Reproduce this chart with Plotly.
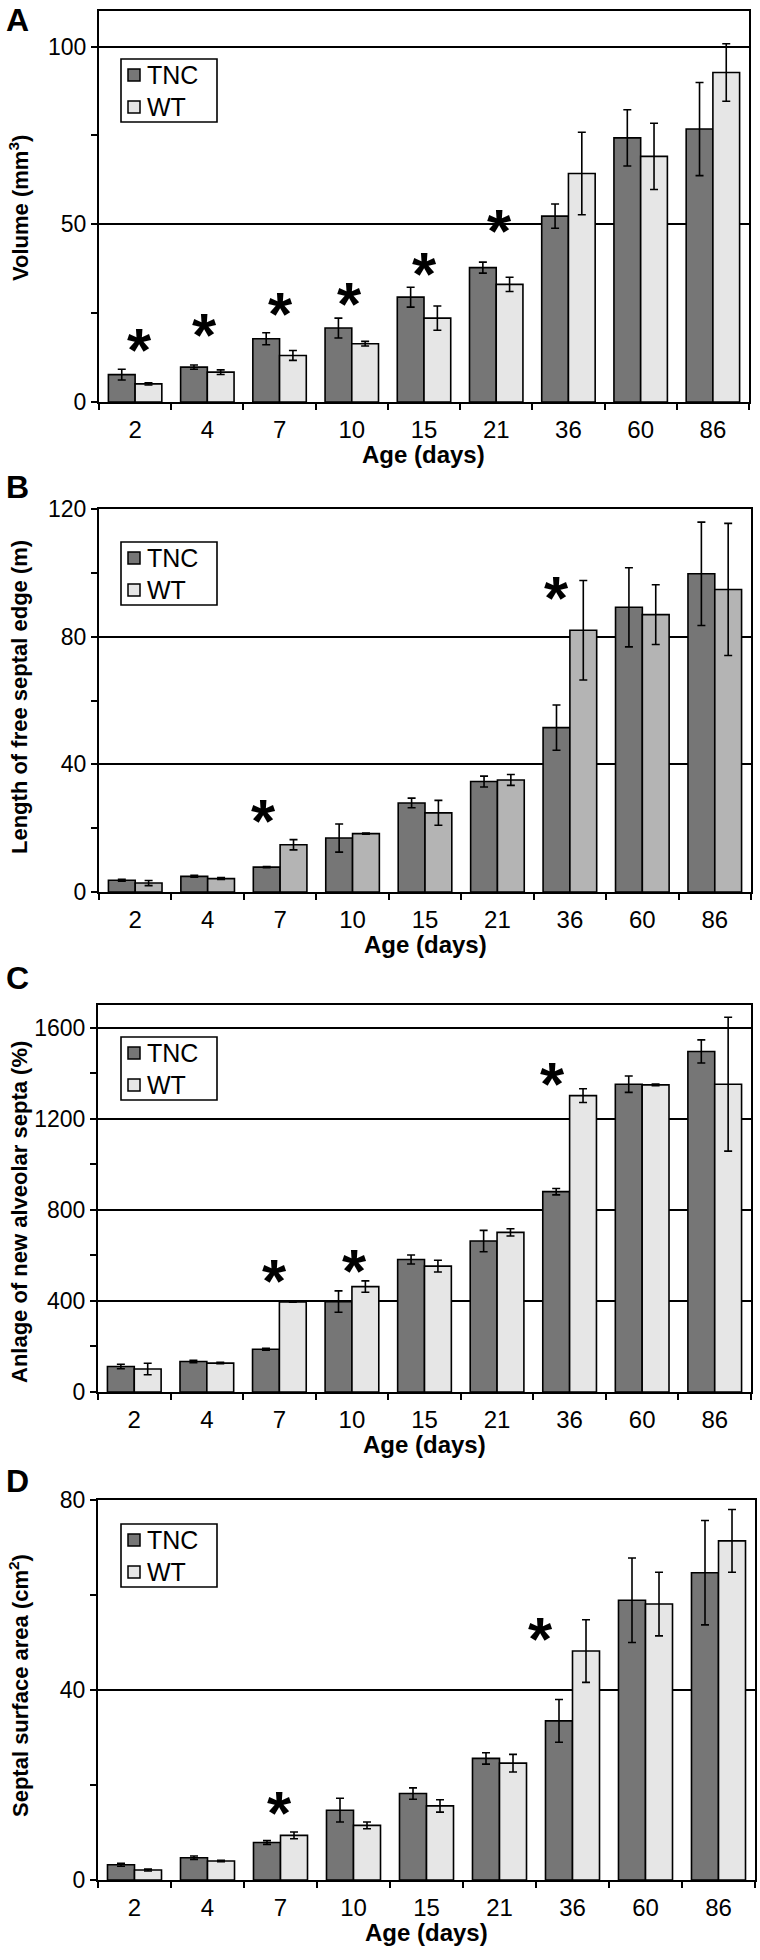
import plotly.graph_objects as go

# ---------------- data ----------------
ages = ["2", "4", "7", "10", "15", "21", "36", "60", "86"]
series_names = ["TNC", "WT"]

vol_tnc = [7.7, 9.8, 17.8, 20.8, 29.5, 37.8, 52.3, 74.3, 76.8]
vol_tnc_err = [1.5, 0.6, 1.7, 2.8, 2.8, 1.55, 3.4, 7.9, 13.1]
vol_wt = [5.1, 8.4, 13.1, 16.4, 23.6, 33.1, 64.3, 69.1, 92.7]
vol_wt_err = [0.3, 0.65, 1.4, 0.65, 3.4, 2.0, 11.6, 9.3, 8.1]

len_tnc = [3.7, 4.9, 7.8, 16.9, 27.9, 34.6, 51.5, 89.2, 99.7]
len_tnc_err = [0.3, 0.3, 0.2, 4.4, 1.5, 1.7, 7.1, 12.4, 16.2]
len_wt = [2.8, 4.2, 14.8, 18.3, 24.8, 35.1, 82.0, 86.9, 94.8]
len_wt_err = [0.8, 0.3, 1.6, 0.2, 3.9, 1.7, 15.6, 9.35, 20.7]

anl_tnc = [112, 134, 188, 397, 582, 663, 880, 1352, 1496]
anl_tnc_err = [10, 5, 4, 47, 20, 47, 14, 36, 51]
anl_wt = [101, 127, 396, 463, 553, 701, 1302, 1349, 1352]
anl_wt_err = [25, 3, 2, 25, 26, 16, 30, 4, 294]

area_tnc = [3.2, 4.7, 7.9, 14.7, 18.2, 25.6, 33.5, 58.9, 64.7]
area_tnc_err = [0.3, 0.35, 0.4, 2.5, 1.2, 1.2, 4.5, 8.9, 11.0]
area_wt = [2.1, 4.0, 9.4, 11.5, 15.6, 24.6, 48.2, 58.1, 71.4]
area_wt_err = [0.2, 0.15, 0.7, 0.7, 1.3, 1.85, 6.6, 6.7, 6.6]

# significance stars: category and height (data units)
stars_a_cat = ["2", "4", "7", "10", "15", "21"]
stars_a_y = [16.5, 20.6, 26.6, 29.4, 37.9, 50.0]
stars_b_cat = ["7", "36"]
stars_b_y = [24.2, 94.1]
stars_c_cat = ["7", "10", "36"]
stars_c_y = [514, 558, 1382]
stars_d_cat = ["7", "36"]
stars_d_y = [15.4, 52.2]

# ---------------- styling / layout ----------------
W, H = 760, 1960
FONT = "Liberation Sans, Arial, sans-serif"
TNC_COLOR = "#767676"
WT_LIGHT = "#e6e6e6"
WT_MID = "#b4b4b4"


def px_x(x):
    return x / W


def px_y(y):
    return 1 - y / H


panels = [
    dict(key="A", tnc=vol_tnc, tnce=vol_tnc_err, wt=vol_wt, wte=vol_wt_err,
         wtcol=WT_LIGHT, x0=99, x1=749, y0=11, y1=402, rng=[0, 110], dtick=50, minor=25,
         title="Volume (mm<sup>3</sup>)", title_y=208,
         stars=(stars_a_cat, stars_a_y), shifts=[4, -3, 1, -2, 0, 3],
         leg_top=59, label_y=20),
    dict(key="B", tnc=len_tnc, tnce=len_tnc_err, wt=len_wt, wte=len_wt_err,
         wtcol=WT_MID, x0=99, x1=751, y0=509, y1=892, rng=[0, 120], dtick=40, minor=20,
         title="Length of free septal edge (m)", title_y=697,
         stars=(stars_b_cat, stars_b_y), shifts=[-17, -13],
         leg_top=542, label_y=487),
    dict(key="C", tnc=anl_tnc, tnce=anl_tnc_err, wt=anl_wt, wte=anl_wt_err,
         wtcol=WT_LIGHT, x0=98, x1=751, y0=1005, y1=1392, rng=[0, 1700], dtick=400, minor=200,
         title="Anlage of new alveolar septa (%)", title_y=1212,
         stars=(stars_c_cat, stars_c_y), shifts=[-5, 3, -17],
         leg_top=1037, label_y=978),
    dict(key="D", tnc=area_tnc, tnce=area_tnc_err, wt=area_wt, wte=area_wt_err,
         wtcol=WT_LIGHT, x0=98, x1=755, y0=1500, y1=1880, rng=[0, 80], dtick=40, minor=20,
         title="Septal surface area (cm<sup>2</sup>)", title_y=1686,
         stars=(stars_d_cat, stars_d_y), shifts=[-1, -32],
         leg_top=1524, label_y=1481),
]

fig = go.Figure()
annotations = []
shapes = []
layout_extra = {}

for i, p in enumerate(panels):
    n = i + 1
    xa = "x" if n == 1 else f"x{n}"
    ya = "y" if n == 1 else f"y{n}"

    fig.add_trace(go.Bar(
        x=ages, y=p["tnc"], name=series_names[0], xaxis=xa, yaxis=ya, showlegend=False,
        marker=dict(color=TNC_COLOR, line=dict(color="black", width=1.6)),
        error_y=dict(type="data", array=p["tnce"], color="black", thickness=1.6, width=4),
        offsetgroup="tnc",
    ))
    fig.add_trace(go.Bar(
        x=ages, y=p["wt"], name=series_names[1], xaxis=xa, yaxis=ya, showlegend=False,
        marker=dict(color=p["wtcol"], line=dict(color="black", width=1.6)),
        error_y=dict(type="data", array=p["wte"], color="black", thickness=1.6, width=4),
        offsetgroup="wt",
    ))

    layout_extra[("xaxis" if n == 1 else f"xaxis{n}")] = dict(
        domain=[px_x(p["x0"]), px_x(p["x1"])], anchor=ya, type="category",
        categoryorder="array", categoryarray=ages, range=[-0.5, len(ages) - 0.5],
        tickson="boundaries", ticks="outside", ticklen=6, tickwidth=1.8, tickcolor="black",
        showline=True, linecolor="black", linewidth=2, mirror=True,
        showgrid=False, automargin=False, tickangle=0, ticklabelstandoff=5,
        tickfont=dict(family=FONT, size=24, color="black"),
    )
    layout_extra[("yaxis" if n == 1 else f"yaxis{n}")] = dict(
        domain=[px_y(p["y1"]), px_y(p["y0"])], anchor=xa, range=p["rng"],
        dtick=p["dtick"], tick0=0, ticks="outside", ticklen=6, tickwidth=1.8, tickcolor="black",
        showline=True, linecolor="black", linewidth=2, mirror=True,
        showgrid=True, gridcolor="black", gridwidth=1.6, zeroline=False,
        minor=dict(dtick=p["minor"], tick0=0, ticks="outside", ticklen=6, tickwidth=1.5,
                   tickcolor="black", showgrid=False),
        automargin=False,
        tickfont=dict(family=FONT, size=23, color="black"),
    )

    # legend box (key)
    top = p["leg_top"]
    shapes.append(dict(
        type="rect", xref="paper", yref="paper",
        x0=px_x(121), x1=px_x(217), y0=px_y(top), y1=px_y(top + 63),
        line=dict(color="black", width=1.6), fillcolor="white", layer="above",
    ))
    for k, (name, col) in enumerate(zip(series_names, (TNC_COLOR, WT_LIGHT))):
        cy = top + 16 + 32 * k
        shapes.append(dict(
            type="rect", xref="paper", yref="paper",
            x0=px_x(128), x1=px_x(140), y0=px_y(cy - 6), y1=px_y(cy + 6),
            line=dict(color="black", width=1.5), fillcolor=col, layer="above",
        ))
        annotations.append(dict(
            text=name, xref="paper", yref="paper", x=px_x(145), y=px_y(cy),
            xanchor="left", yanchor="middle", showarrow=False,
            font=dict(family=FONT, size=25, color="black"),
        ))

    # panel label
    annotations.append(dict(
        text=f"<b>{p['key']}</b>", xref="paper", yref="paper",
        x=px_x(17), y=px_y(p["label_y"]), xanchor="center", yanchor="middle",
        showarrow=False, font=dict(family=FONT, size=32, color="black"),
    ))
    # y title
    annotations.append(dict(
        text=f"<b>{p['title']}</b>", xref="paper", yref="paper",
        x=px_x(19), y=px_y(p["title_y"]), xanchor="center", yanchor="middle",
        textangle=-90, showarrow=False, font=dict(family=FONT, size=22, color="black"),
    ))
    # x title
    annotations.append(dict(
        text="<b>Age (days)</b>", xref="paper", yref="paper",
        x=px_x((p["x0"] + p["x1"]) / 2), y=px_y(p["y1"] + 52), xanchor="center",
        yanchor="middle", showarrow=False, font=dict(family=FONT, size=24, color="black"),
        borderpad=0,
    ))
    # stars (x given as category index)
    for cat, yv, sh in zip(p["stars"][0], p["stars"][1], p["shifts"]):
        annotations.append(dict(
            text="<b>*</b>", xref=xa, yref=ya, x=ages.index(cat), y=yv,
            xanchor="center", yanchor="middle", xshift=sh, yshift=-6,
            showarrow=False, font=dict(family=FONT, size=62, color="black"),
        ))

fig.update_layout(
    width=W, height=H, margin=dict(l=0, r=0, t=0, b=0),
    paper_bgcolor="white", plot_bgcolor="white",
    barmode="group", bargap=0.26, bargroupgap=0,
    annotations=annotations, shapes=shapes, showlegend=False,
    font=dict(family=FONT, color="black"),
    **layout_extra,
)

fig.write_html("out.html", config={"displayModeBar": False},
               post_script="document.body.style.margin='0px';")
